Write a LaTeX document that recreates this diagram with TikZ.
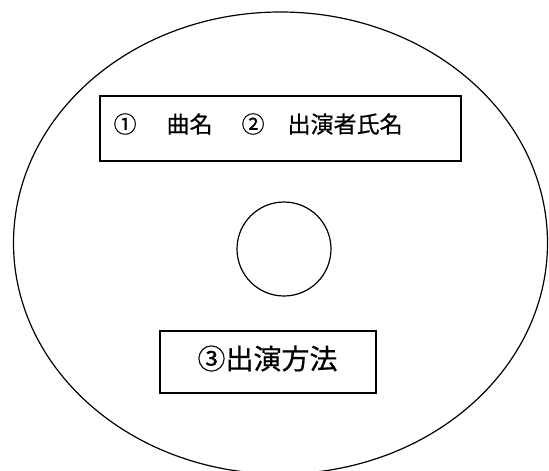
\documentclass[tikz,border=0pt]{standalone}
\usepackage{fontspec}
\newfontfamily\jpfont[FakeBold=0.6]{Noto Sans CJK JP}
\usetikzlibrary{shapes.geometric}

\begin{document}
\begin{tikzpicture}[x=1pt,y=-1pt,line width=1.2pt]

      \useasboundingbox (0,0) rectangle (549,471);
      \clip (0,0) rectangle (549,471);

      % Shapes
      \begin{scope}[every node/.style={draw,line width=1.2pt,inner sep=0pt}]
        \node[ellipse,minimum width=534pt,minimum height=462pt] (disc) at (280.5,243) {};
        \node[circle,minimum size=94pt] (hole) at (284,249) {};
        \node[rectangle,minimum width=361pt,minimum height=65pt] (titlebox) at (280.5,128.5) {};
        \node[rectangle,minimum width=216pt,minimum height=62pt] (methodbox) at (268,362) {};
      \end{scope}

      % Labels
      \begin{scope}[every node/.style={inner sep=0pt}]
        \node[anchor=west,font=\jpfont\fontsize{23pt}{23pt}\selectfont] (title) at (113,124)
          {①\hspace{30pt}曲名\hspace{29pt}②\hspace{23pt}出演者氏名};
        \node[font=\jpfont\fontsize{28pt}{28pt}\selectfont] (method) at (267.5,358.5) {③出演方法};
      \end{scope}

    \end{tikzpicture}
\end{document}
